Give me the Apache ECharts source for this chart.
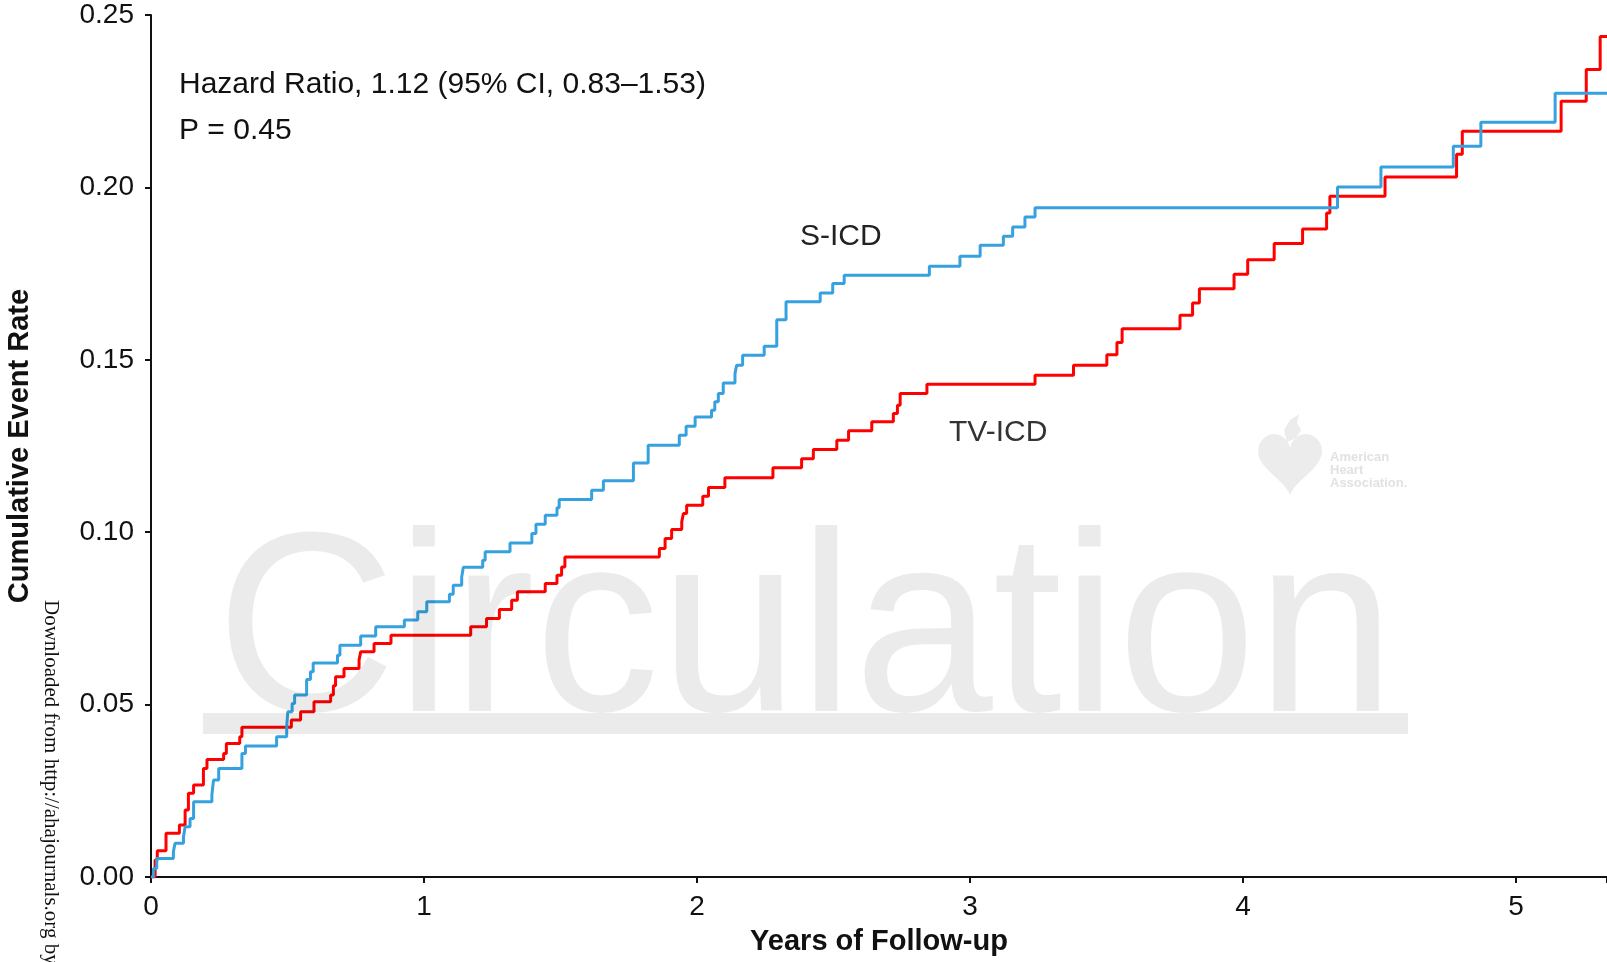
<!DOCTYPE html>
<html>
<head>
<meta charset="utf-8">
<title>Cumulative Event Rate</title>
<script src="https://cdn.jsdelivr.net/npm/echarts@6/dist/echarts.min.js"></script>
<style>
  html, body { margin: 0; padding: 0; background: #fff; }
  #chart { width: 1607px; height: 962px; }
</style>
</head>
<body>
<div id="chart"></div>
<script>
// S-ICD (blue) step times / cumulative rates
var sicdYears = [0, 0.009, 0.021, 0.082, 0.088, 0.119, 0.125, 0.143, 0.156, 0.223, 0.229, 0.248, 0.333, 0.346, 0.46,
    0.497, 0.501, 0.517, 0.526, 0.57, 0.584, 0.594, 0.683, 0.692, 0.768, 0.823, 0.928, 0.977, 1.010, 1.093,
    1.107, 1.138, 1.144, 1.215, 1.224, 1.315, 1.395, 1.410, 1.444, 1.487, 1.495, 1.614, 1.657, 1.767, 1.821,
    1.935, 1.960, 1.993, 2.053, 2.065, 2.078, 2.096, 2.139, 2.145, 2.167, 2.246, 2.292, 2.326, 2.451, 2.497,
    2.539, 2.851, 2.963, 3.037, 3.122, 3.156, 3.201, 3.238, 4.346, 4.505, 4.770, 4.871, 5.143, 5.34];
var sicdRates = [0, 0.0025, 0.0054, 0.0073, 0.0098, 0.0117, 0.0146, 0.017, 0.0218, 0.0238, 0.0281, 0.0315, 0.0358, 0.038, 0.0407,
    0.0435, 0.0479, 0.0503, 0.0528, 0.0573, 0.0595, 0.0621, 0.0643, 0.0672, 0.0699, 0.0726, 0.0745, 0.0769, 0.0798, 0.082,
    0.0846, 0.087, 0.0898, 0.0919, 0.0943, 0.0969, 0.0996, 0.1023, 0.1049, 0.1071, 0.1095, 0.1122, 0.1149, 0.1201, 0.1252,
    0.1281, 0.1307, 0.1334, 0.1354, 0.1378, 0.1402, 0.1433, 0.146, 0.1484, 0.1513, 0.1539, 0.1616, 0.1668, 0.1694, 0.1721,
    0.1745, 0.1771, 0.18, 0.1832, 0.1858, 0.1885, 0.1914, 0.1941, 0.2001, 0.2059, 0.2119, 0.2189, 0.2273, 0.2273];

// TV-ICD (red)
var tvicdYears = [0, 0.015, 0.023, 0.055, 0.104, 0.125, 0.137, 0.156, 0.192, 0.205, 0.266, 0.276, 0.325, 0.333, 0.514,
    0.548, 0.597, 0.658, 0.668, 0.676, 0.707, 0.762, 0.768, 0.817, 0.879, 1.171, 1.229, 1.276, 1.321, 1.342,
    1.444, 1.487, 1.504, 1.516, 1.862, 1.883, 1.907, 1.944, 1.950, 1.962, 2.021, 2.042, 2.102, 2.278, 2.383,
    2.426, 2.512, 2.555, 2.640, 2.719, 2.734, 2.744, 2.842, 3.238, 3.379, 3.501, 3.538, 3.557, 3.769, 3.815,
    3.840, 3.967, 4.017, 4.114, 4.218, 4.306, 4.318, 4.520, 4.782, 4.803, 5.165, 5.257, 5.308, 5.34];
var tvicdRates = [0, 0.0049, 0.0076, 0.0127, 0.0151, 0.0194, 0.0243, 0.0267, 0.0315, 0.0341, 0.0358, 0.0387, 0.0407, 0.0434, 0.0455,
    0.0479, 0.0508, 0.0528, 0.0555, 0.0581, 0.0605, 0.0629, 0.0653, 0.0677, 0.0701, 0.0726, 0.075, 0.0776, 0.0803, 0.0827,
    0.0851, 0.0875, 0.0899, 0.0928, 0.0953, 0.0982, 0.1008, 0.103, 0.1054, 0.1078, 0.1104, 0.113, 0.1158, 0.1187, 0.1213,
    0.124, 0.1267, 0.1294, 0.132, 0.1344, 0.1368, 0.1402, 0.1429, 0.1455, 0.1484, 0.1515, 0.155, 0.159, 0.1629, 0.1665,
    0.1706, 0.1748, 0.179, 0.1837, 0.1879, 0.1926, 0.1974, 0.203, 0.2096, 0.2163, 0.225, 0.2342, 0.2438, 0.2438];

var yTicks = [0, 0.05, 0.10, 0.15, 0.20, 0.25];
var xMaxYear = 5.333;

var statText = ['Hazard Ratio, 1.12 (95% CI, 0.83\u20131.53)', 'P = 0.45'];

function pairs(xs, ys) {
    var out = [];
    for (var i = 0; i < xs.length; i++) {
        out.push([xs[i], ys[i]]);
    }
    return out;
}

// outline of the heart in the logo (decoration only)
function heartPoints(cx, top, w, h) {
    var pts = [];
    for (var k = 0; k <= 60; k++) {
        var t = k / 60 * Math.PI * 2;
        var hx = 16 * Math.pow(Math.sin(t), 3);
        var hy = 13 * Math.cos(t) - 5 * Math.cos(2 * t) - 2 * Math.cos(3 * t) - Math.cos(4 * t);
        pts.push([cx + hx * w / 32, top + (11.9 - hy) * h / 28.9]);
    }
    return pts;
}

var FONT = '"Liberation Sans", Arial, sans-serif';
var WM = 'rgba(0,0,0,0.08)';

var chart = echarts.init(document.getElementById('chart'));

chart.setOption({
    animation: false,
    backgroundColor: '#fff',
    grid: { left: 151, right: 0, top: 15, bottom: 85, containLabel: false, outerBoundsMode: 'none' },
    xAxis: {
        type: 'value',
        min: 0,
        max: xMaxYear,
        interval: 1,
        name: 'Years of Follow-up',
        nameLocation: 'middle',
        nameGap: 50,
        nameTextStyle: { fontFamily: FONT, fontSize: 29, fontWeight: 'bold', color: '#111' },
        axisLine: { lineStyle: { color: '#111', width: 2 } },
        axisTick: { length: 6, lineStyle: { color: '#111', width: 2 } },
        axisLabel: {
            margin: 16,
            fontFamily: FONT, fontSize: 28, color: '#111',
            formatter: function (v) { return Math.abs(v - Math.round(v)) < 1e-6 ? String(Math.round(v)) : ''; }
        },
        splitLine: { show: false }
    },
    yAxis: {
        type: 'value',
        min: yTicks[0],
        max: yTicks[yTicks.length - 1],
        interval: 0.05,
        name: 'Cumulative Event Rate',
        nameLocation: 'middle',
        nameGap: 117,
        nameTextStyle: { fontFamily: FONT, fontSize: 29, fontWeight: 'bold', color: '#111' },
        axisLine: { show: true, lineStyle: { color: '#111', width: 2 } },
        axisTick: { show: true, length: 6, lineStyle: { color: '#111', width: 2 } },
        axisLabel: {
            margin: 17,
            fontFamily: FONT, fontSize: 28, color: '#111',
            formatter: function (v) { return v.toFixed(2); }
        },
        splitLine: { show: false }
    },
    series: [
        {
            name: 'TV-ICD',
            type: 'line',
            step: 'end',
            showSymbol: false,
            data: pairs(tvicdYears, tvicdRates),
            lineStyle: { color: '#ff0000', width: 3 },
            itemStyle: { color: '#ff0000' },
            z: 2
        },
        {
            name: 'S-ICD',
            type: 'line',
            step: 'end',
            showSymbol: false,
            data: pairs(sicdYears, sicdRates),
            lineStyle: { color: '#36a1df', width: 3 },
            itemStyle: { color: '#36a1df' },
            z: 3
        }
    ],
    graphic: [
        // annotations
        { type: 'text', x: 179, y: 85, z: 50, style: { text: statText[0], font: '30px ' + FONT, fill: '#111', verticalAlign: 'middle' } },
        { type: 'text', x: 179, y: 131, z: 50, style: { text: statText[1], font: '30px ' + FONT, fill: '#111', verticalAlign: 'middle' } },
        { type: 'text', x: 800, y: 237, z: 50, style: { text: 'S-ICD', font: '30px ' + FONT, fill: '#222', verticalAlign: 'middle' } },
        { type: 'text', x: 949, y: 433, z: 50, style: { text: 'TV-ICD', font: '30px ' + FONT, fill: '#333', verticalAlign: 'middle' } },
        // journal watermark
        { type: 'text', x: 216, y: 640, scaleX: 0.975, z: 100, silent: true,
          style: { text: 'Circulation', font: '256px ' + FONT, fill: WM, verticalAlign: 'middle' } },
        { type: 'rect', z: 100, silent: true, shape: { x: 203, y: 713, width: 1205, height: 21 }, style: { fill: WM } },
        // AHA logo
        { type: 'polygon', z: 100, silent: true, shape: { points: heartPoints(1290, 434, 64, 62) }, style: { fill: '#ececec' } },
        { type: 'polygon', z: 100, silent: true,
          shape: { points: [[1287, 442], [1284, 430], [1290, 420], [1299, 414], [1297, 423], [1301, 430], [1296, 438]] },
          style: { fill: '#ececec' } },
        { type: 'text', x: 1330, y: 470, z: 100, silent: true,
          style: { text: 'American\nHeart\nAssociation.', font: 'bold 13px ' + FONT, lineHeight: 13, fill: '#e2e2e2', verticalAlign: 'middle' } },
        // side note
        { type: 'text', x: 51, y: 600, rotation: -Math.PI / 2, z: 50,
          style: { text: 'Downloaded from http://ahajournals.org by', font: '21px "Liberation Serif", "Times New Roman", serif', fill: '#111', verticalAlign: 'middle' } }
    ]
});
</script>
</body>
</html>
